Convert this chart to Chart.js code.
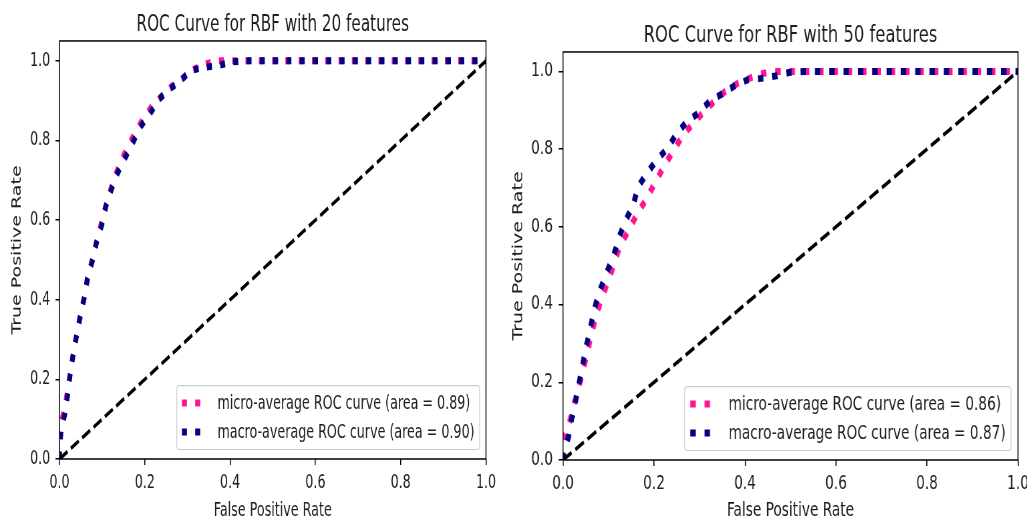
<!DOCTYPE html>
<html>
<head>
<meta charset="utf-8">
<script src="https://cdn.jsdelivr.net/npm/chart.js@4.4.1/dist/chart.umd.min.js"></script>
<style>
html,body{margin:0;padding:0;background:#fff;overflow:hidden;width:1027px;height:517px;}
.wrap{position:absolute;top:0;height:517px;transform-origin:0 0;}
</style>
</head>
<body>
<div class="wrap" id="wL"><canvas id="cL"></canvas></div>
<div class="wrap" id="wR"><canvas id="cR"></canvas></div>
<script>
// ---------- data ----------
const titles = ["ROC Curve for RBF with 20 features", "ROC Curve for RBF with 50 features"];
const xTitle = "False Positive Rate";
const yTitle = "True Positive Rate";
const xTicks = [0, 0.2, 0.4, 0.6, 0.8, 1.0];
const yTicks = [0, 0.2, 0.4, 0.6, 0.8, 1.0];

const microLabels = ["micro-average ROC curve (area = 0.89)", "micro-average ROC curve (area = 0.86)"];
const macroLabels = ["macro-average ROC curve (area = 0.90)", "macro-average ROC curve (area = 0.87)"];

const L_micro_fpr = [0, 0, 0.006, 0.014, 0.021, 0.029, 0.037, 0.046, 0.055, 0.064, 0.072, 0.083, 0.093, 0.104, 0.115, 0.128, 0.143, 0.16, 0.178, 0.196, 0.216, 0.238, 0.262, 0.287, 0.31, 0.335, 0.369, 1.0];
const L_micro_tpr = [0, 0.05, 0.1, 0.14, 0.19, 0.24, 0.29, 0.34, 0.39, 0.44, 0.48, 0.53, 0.57, 0.62, 0.66, 0.705, 0.745, 0.785, 0.82, 0.855, 0.885, 0.91, 0.935, 0.955, 0.976, 0.99, 1.0, 1.0];
const L_macro_fpr = [0, 0, 0.0035, 0.013, 0.019, 0.025, 0.031, 0.04, 0.048, 0.058, 0.065, 0.077, 0.087, 0.099, 0.109, 0.122, 0.136, 0.154, 0.172, 0.189, 0.211, 0.234, 0.257, 0.283, 0.308, 0.34, 0.372, 0.402, 0.435, 1.0];
const L_macro_tpr = [0, 0.014, 0.069, 0.116, 0.161, 0.212, 0.258, 0.312, 0.358, 0.405, 0.453, 0.497, 0.545, 0.587, 0.636, 0.678, 0.718, 0.757, 0.795, 0.833, 0.866, 0.904, 0.928, 0.949, 0.976, 0.984, 0.988, 0.997, 1.0, 1.0];

const R_micro_fpr = [0, 0, 0.006, 0.015, 0.024, 0.033, 0.044, 0.054, 0.064, 0.073, 0.084, 0.099, 0.108, 0.117, 0.128, 0.143, 0.165, 0.185, 0.2, 0.225, 0.253, 0.271, 0.304, 0.33, 0.355, 0.385, 0.43, 0.46, 1.0];
const R_micro_tpr = [0, 0.055, 0.07, 0.1, 0.142, 0.18, 0.23, 0.28, 0.33, 0.374, 0.412, 0.46, 0.49, 0.524, 0.557, 0.588, 0.638, 0.674, 0.709, 0.762, 0.816, 0.846, 0.889, 0.92, 0.947, 0.97, 0.992, 1.0, 1.0];
const R_macro_fpr = [0, 0.002, 0.0125, 0.02, 0.029, 0.037, 0.045, 0.053, 0.062, 0.071, 0.083, 0.097, 0.112, 0.123, 0.138, 0.154, 0.165, 0.185, 0.207, 0.229, 0.249, 0.271, 0.299, 0.322, 0.348, 0.376, 0.405, 0.434, 0.467, 0.496, 0.529, 1.0];
const R_macro_tpr = [0, 0.017, 0.062, 0.11, 0.159, 0.208, 0.256, 0.302, 0.35, 0.398, 0.442, 0.485, 0.528, 0.573, 0.617, 0.655, 0.703, 0.739, 0.773, 0.801, 0.838, 0.869, 0.894, 0.923, 0.941, 0.962, 0.978, 0.982, 0.988, 0.997, 1.0, 1.0];

const diag_fpr = [0, 1];
const diag_tpr = [0, 1];

// ---------- helpers ----------
const FONT = '"DejaVu Sans"';
const FS = 19;
const TXT = '#1e1e1e';
const pts = (xs, ys) => xs.map((x, i) => ({x: x, y: ys[i]}));

const framePlugin = {
  id: 'frame',
  afterDatasetsDraw(chart) {
    const {ctx, chartArea: a} = chart;
    ctx.save();
    ctx.strokeStyle = '#000';
    ctx.lineWidth = 1.5;
    ctx.strokeRect(a.left, a.top, a.right - a.left, a.bottom - a.top);
    ctx.restore();
  }
};

const legendPlugin = {
  id: 'mplLegend',
  afterDraw(chart) {
    const {ctx, chartArea: a} = chart;
    const items = chart.data.datasets.filter(d => d.inLegend);
    const fs = FS;
    ctx.save();
    ctx.font = fs + 'px ' + FONT;
    const tw = Math.max(...items.map(d => ctx.measureText(d.label).width));
    const bp = 0.4 * fs, hl = 2 * fs, htp = 0.8 * fs, ls = 0.5 * fs, bap = 0.5 * fs, rowH = fs * 1.03;
    const w = 2 * bp + hl + htp + tw;
    const h = 2 * bp + items.length * rowH + (items.length - 1) * ls;
    const x = a.right - bap - w, y = a.bottom - bap - h;
    const r = 0.2 * fs;
    ctx.beginPath();
    ctx.moveTo(x + r, y);
    ctx.lineTo(x + w - r, y); ctx.quadraticCurveTo(x + w, y, x + w, y + r);
    ctx.lineTo(x + w, y + h - r); ctx.quadraticCurveTo(x + w, y + h, x + w - r, y + h);
    ctx.lineTo(x + r, y + h); ctx.quadraticCurveTo(x, y + h, x, y + h - r);
    ctx.lineTo(x, y + r); ctx.quadraticCurveTo(x, y, x + r, y);
    ctx.closePath();
    ctx.fillStyle = 'rgba(255,255,255,0.8)';
    ctx.fill();
    ctx.strokeStyle = '#cccccc';
    ctx.lineWidth = 1.2;
    ctx.stroke();
    items.forEach((d, i) => {
      const cy = y + bp + i * (rowH + ls) + rowH / 2;
      ctx.strokeStyle = d.borderColor;
      ctx.lineWidth = d.borderWidth;
      ctx.lineCap = 'butt';
      ctx.setLineDash(d.borderDash);
      ctx.beginPath();
      ctx.moveTo(x + bp, cy);
      ctx.lineTo(x + bp + hl, cy);
      ctx.stroke();
      ctx.setLineDash([]);
      ctx.fillStyle = TXT;
      ctx.textBaseline = 'middle';
      ctx.textAlign = 'left';
      ctx.fillText(d.label, x + bp + hl + htp, cy + 1);
    });
    ctx.restore();
  }
};

function makeChart(id, wrapId, p) {
  const wrap = document.getElementById(wrapId);
  wrap.style.left = p.left + 'px';
  wrap.style.width = p.W + 'px';
  wrap.style.transform = 'scaleX(' + p.s + ')';
  const cv = document.getElementById(id);
  cv.width = p.W; cv.height = 517;
  cv.style.width = p.W + 'px'; cv.style.height = '517px';
  const dotted = [7.5, 12.4];
  return new Chart(cv, {
    type: 'scatter',
    data: {
      datasets: [
        {label: p.microLabel, data: pts(p.microF, p.microT), showLine: true, borderColor: '#ff1493',
         borderWidth: 7, borderDash: dotted, borderCapStyle: 'butt', borderJoinStyle: 'round',
         pointRadius: 0, tension: 0, order: 3, inLegend: true},
        {label: p.macroLabel, data: pts(p.macroF, p.macroT), showLine: true, borderColor: '#000080',
         borderWidth: 7, borderDash: dotted, borderCapStyle: 'butt', borderJoinStyle: 'round',
         pointRadius: 0, tension: 0, order: 2, inLegend: true},
        {label: 'chance', data: pts(diag_fpr, diag_tpr), showLine: true, borderColor: '#000000',
         borderWidth: 3.8, borderDash: [14, 6], borderCapStyle: 'butt',
         pointRadius: 0, tension: 0, order: 1, inLegend: false}
      ]
    },
    options: {
      responsive: false,
      animation: false,
      devicePixelRatio: 1,
      layout: {padding: {left: 0, right: p.padR, top: 0, bottom: 0}},
      plugins: {
        legend: {display: false},
        tooltip: {enabled: false},
        title: {display: true, text: p.title, color: TXT, fullSize: false,
                font: {family: FONT, size: FS * 1.2, weight: 'normal'},
                padding: {top: p.titleTop, bottom: p.titleBottom}}
      },
      scales: {
        x: {
          type: 'linear', min: 0, max: 1,
          afterBuildTicks: (s) => { s.ticks = xTicks.map(v => ({value: v})); },
          afterFit: (s) => { s.height = 517 - p.bottom; },
          ticks: {color: TXT, font: {family: FONT, size: FS}, padding: 7,
                  maxRotation: 0, autoSkip: false, callback: (v) => Number(v).toFixed(1)},
          grid: {display: true, drawOnChartArea: false, drawTicks: true, tickLength: 6, color: '#000', lineWidth: 1.5},
          border: {display: false},
          title: {display: true, text: xTitle, color: TXT, font: {family: FONT, size: FS}, padding: {top: 0, bottom: -5}}
        },
        y: {
          type: 'linear', min: 0, max: 1.05,
          afterBuildTicks: (s) => { s.ticks = yTicks.map(v => ({value: v})); },
          afterFit: (s) => { s.width = p.axL; },
          ticks: {color: TXT, font: {family: FONT, size: FS}, padding: 8,
                  autoSkip: false, callback: (v) => Number(v).toFixed(1)},
          grid: {display: true, drawOnChartArea: false, drawTicks: true, tickLength: 6, color: '#000', lineWidth: 1.5},
          border: {display: false},
          title: {display: true, text: yTitle, color: TXT, font: {family: FONT, size: FS}, padding: {top: 15, bottom: 0}}
        }
      }
    },
    plugins: [framePlugin, legendPlugin]
  });
}

makeChart('cL', 'wL', {
  left: 0, W: 766, s: 0.668, padR: 38.5, axL: 89.1, bottom: 459,
  titleTop: 11.3, titleBottom: 2.3, title: titles[0],
  microLabel: microLabels[0], macroLabel: macroLabels[0],
  microF: L_micro_fpr, microT: L_micro_tpr, macroF: L_macro_fpr, macroT: L_macro_tpr
});
makeChart('cR', 'wR', {
  left: 500, W: 760, s: 0.72, padR: 40.6, axL: 87.5, bottom: 460,
  titleTop: 22.3, titleBottom: 2.3, title: titles[1],
  microLabel: microLabels[1], macroLabel: macroLabels[1],
  microF: R_micro_fpr, microT: R_micro_tpr, macroF: R_macro_fpr, macroT: R_macro_tpr
});
</script>
</body>
</html>
